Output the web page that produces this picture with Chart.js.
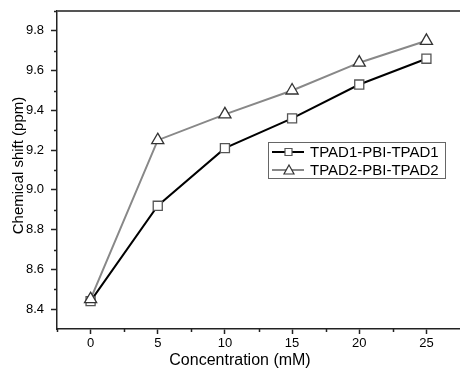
<!DOCTYPE html>
<html>
<head>
<meta charset="utf-8">
<script src="https://cdn.jsdelivr.net/npm/chart.js@4/dist/chart.umd.min.js"></script>
<style>
  html, body { margin: 0; padding: 0; background: #fff; }
  #wrap { width: 460px; height: 368px; }
</style>
</head>
<body>
<div id="wrap"><canvas id="grafico" width="460" height="368"></canvas></div>
<script>
// dados
const concentracao = [0, 5, 10, 15, 20, 25];
const serie1 = [8.44, 8.92, 9.21, 9.36, 9.53, 9.66];
const serie2 = [8.45, 9.25, 9.38, 9.50, 9.64, 9.75];
const nomes = ["TPAD1-PBI-TPAD1", "TPAD2-PBI-TPAD2"];
const tituloX = "Concentration (mM)";
const tituloY = "Chemical shift (ppm)";

const xTicks = [0, 5, 10, 15, 20, 25];
const xMenores = [-2.5, 2.5, 7.5, 12.5, 17.5, 22.5];
const yTicks = [8.4, 8.6, 8.8, 9.0, 9.2, 9.4, 9.6, 9.8];
const yMenores = [8.5, 8.7, 8.9, 9.1, 9.3, 9.5, 9.7, 9.9];

const fonte = "'Liberation Sans', Arial, sans-serif";

/* -------------------------------
   ticks menores + moldura
   ------------------------------- */
const moldura = {
    id: "moldura",
    afterDatasetsDraw(chart) {
        const { ctx, chartArea: a, scales } = chart;
        ctx.save();
        ctx.strokeStyle = "#222";
        ctx.lineWidth = 1.5;
        ctx.beginPath();
        xMenores.forEach(v => {
            const px = Math.round(scales.x.getPixelForValue(v)) + 0.5;
            ctx.moveTo(px, a.bottom);
            ctx.lineTo(px, a.bottom + 3);
        });
        yMenores.forEach(v => {
            const py = Math.round(scales.y.getPixelForValue(v)) + 0.5;
            ctx.moveTo(a.left, py);
            ctx.lineTo(a.left - 3, py);
        });
        ctx.stroke();

        // linha de cima
        ctx.strokeStyle = "#555";
        ctx.lineWidth = 2;
        ctx.beginPath();
        ctx.moveTo(a.left, a.top);
        ctx.lineTo(a.right, a.top);
        ctx.stroke();

        // títulos dos eixos
        ctx.fillStyle = "#000";
        ctx.textAlign = "center";
        ctx.textBaseline = "middle";
        ctx.font = "16px " + fonte;
        ctx.fillText(tituloX, 240, 361);
        ctx.font = "15px " + fonte;
        ctx.translate(18.5, 165.5);
        ctx.rotate(-Math.PI / 2);
        ctx.fillText(tituloY, 0, 0);
        ctx.restore();
    }
};

/* -------------------------------
   legenda desenhada no canvas
   ------------------------------- */
const legenda = {
    id: "legenda",
    afterDraw(chart) {
        const { ctx } = chart;
        const x0 = 268, y0 = 142, w = 177, h = 36;
        ctx.save();
        ctx.fillStyle = "#fff";
        ctx.fillRect(x0, y0, w, h);
        ctx.strokeStyle = "#666";
        ctx.lineWidth = 1;
        ctx.strokeRect(x0 + 0.5, y0 + 0.5, w, h);

        chart.data.datasets.forEach((ds, i) => {
            const yy = y0 + 10 + i * 18;
            ctx.strokeStyle = ds.borderColor;
            ctx.lineWidth = ds.borderWidth;
            ctx.beginPath();
            ctx.moveTo(x0 + 4, yy);
            ctx.lineTo(x0 + 36, yy);
            ctx.stroke();

            ctx.fillStyle = "#fff";
            ctx.strokeStyle = ds.pointBorderColor;
            ctx.lineWidth = 1.2;
            ctx.beginPath();
            if (ds.pointStyle === "rect") {
                ctx.rect(x0 + 17, yy - 3.5, 7, 7);
            } else {
                ctx.moveTo(x0 + 21, yy - 5);
                ctx.lineTo(x0 + 26, yy + 4);
                ctx.lineTo(x0 + 16, yy + 4);
                ctx.closePath();
            }
            ctx.fill();
            ctx.stroke();

            ctx.fillStyle = "#000";
            ctx.font = "15px " + fonte;
            ctx.textBaseline = "middle";
            ctx.fillText(ds.label, x0 + 42, yy + 1);
        });
        ctx.restore();
    }
};

const semPadding = s => {
    s.paddingTop = 0; s.paddingBottom = 0;
    s.paddingLeft = 0; s.paddingRight = 0;
};

new Chart(document.getElementById("grafico"), {
    type: "line",
    data: {
        datasets: [{
            label: nomes[0],
            data: concentracao.map((c, i) => ({ x: c, y: serie1[i] })),
            borderColor: "#000",
            borderWidth: 2,
            pointStyle: "rect",
            pointRadius: 6.4,
            pointBackgroundColor: "#fff",
            pointBorderColor: "#555",
            pointBorderWidth: 1.3,
            order: 1
        }, {
            label: nomes[1],
            data: concentracao.map((c, i) => ({ x: c, y: serie2[i] })),
            borderColor: "#888",
            borderWidth: 2,
            pointStyle: "triangle",
            pointRadius: 7,
            pointBackgroundColor: "#fff",
            pointBorderColor: "#333",
            pointBorderWidth: 1.3,
            order: 0
        }]
    },
    options: {
        responsive: false,
        animation: false,
        layout: { autoPadding: false, padding: { top: 11, right: 0, left: 0, bottom: 0 } },
        plugins: { legend: { display: false }, tooltip: { enabled: false } },
        scales: {
            x: {
                type: "linear",
                min: -2.5,
                max: 27.5,
                afterBuildTicks: s => { s.ticks = xTicks.map(v => ({ value: v })); },
                afterFit: s => { s.height = 39; semPadding(s); },
                grid: { drawOnChartArea: false, tickLength: 5, tickColor: "#222", tickWidth: 1.5 },
                border: { color: "#222", width: 1.5 },
                ticks: { color: "#000", font: { family: fonte, size: 13 }, padding: 2, maxRotation: 0 }
            },
            y: {
                min: 8.3,
                max: 9.9,
                afterBuildTicks: s => { s.ticks = yTicks.map(v => ({ value: v })); },
                afterFit: s => { s.width = 57; semPadding(s); },
                grid: { drawOnChartArea: false, tickLength: 6, tickColor: "#222", tickWidth: 1.5 },
                border: { color: "#222", width: 1.5 },
                ticks: {
                    color: "#000", font: { family: fonte, size: 13 }, padding: 7,
                    callback: v => v.toFixed(1)
                }
            }
        }
    },
    plugins: [moldura, legenda]
});
</script>
</body>
</html>
